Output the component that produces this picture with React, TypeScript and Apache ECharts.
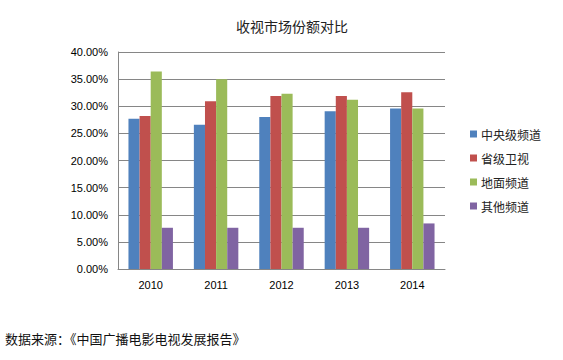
import React, { useEffect, useRef } from "react";
import * as echarts from "echarts";

const categories = ["2010", "2011", "2012", "2013", "2014"];
const seriesNames = ["中央级频道", "省级卫视", "地面频道", "其他频道"];
const central = [27.7, 26.6, 28.0, 29.1, 29.6];
const provincial = [28.2, 30.9, 31.9, 31.9, 32.6];
const local = [36.4, 35.0, 32.3, 31.2, 29.6];
const other = [7.6, 7.6, 7.6, 7.6, 8.4];
const colors = ["#4F81BD", "#C0504D", "#9BBB59", "#8064A2"];
const title = "收视市场份额对比";
const sourceNote = "数据来源：《中国广播电影电视发展报告》";

export default function App() {
  const ref = useRef<HTMLDivElement>(null);
  useEffect(() => {
    if (!ref.current) return;
    const chart = echarts.init(ref.current, null, { renderer: "svg" });
    const data = [central, provincial, local, other];
    chart.setOption({
      animation: false,
      backgroundColor: "#ffffff",
      title: {
        text: title,
        left: 287,
        textAlign: "center",
        top: 14,
        textStyle: { fontFamily: "Noto Sans CJK SC", fontSize: 14, fontWeight: "normal", color: "#222" },
      },
      grid: { left: 118, right: 118, top: 52, bottom: 91, containLabel: false },
      legend: {
        orient: "vertical",
        left: 465,
        top: 123,
        itemWidth: 7,
        itemHeight: 7,
        itemGap: 12,
        icon: "rect",
        textStyle: { fontFamily: "Noto Sans CJK SC", fontSize: 12, color: "#222", padding: [0, 0, 0, -1] },
        data: seriesNames,
      },
      xAxis: {
        type: "category",
        data: categories,
        axisLine: { lineStyle: { color: "#868686" } },
        axisTick: { show: false },
        axisLabel: { fontFamily: "Liberation Sans", fontSize: 11, color: "#000", margin: 10 },
      },
      yAxis: {
        type: "value",
        min: 0,
        max: 40,
        interval: 5,
        axisLine: { show: true, lineStyle: { color: "#868686" } },
        axisTick: { show: false },
        splitLine: { lineStyle: { color: "#868686" } },
        axisLabel: {
          fontFamily: "Liberation Sans",
          fontSize: 11,
          color: "#000",
          margin: 10,
          formatter: (v: number) => v.toFixed(2) + "%",
        },
      },
      series: seriesNames.map((name, i) => ({
        name,
        type: "bar",
        data: data[i],
        barGap: "0%",
        barCategoryGap: "32%",
        itemStyle: { color: colors[i] },
      })),
      graphic: [
        {
          type: "text",
          left: 5,
          top: 332,
          style: { text: sourceNote, font: "13px 'Noto Sans CJK SC'", fill: "#111" },
        },
      ],
    });
    return () => chart.dispose();
  }, []);
  return <div ref={ref} style={{ width: 563, height: 360, position: "absolute", left: 0, top: 0 }} />;
}
